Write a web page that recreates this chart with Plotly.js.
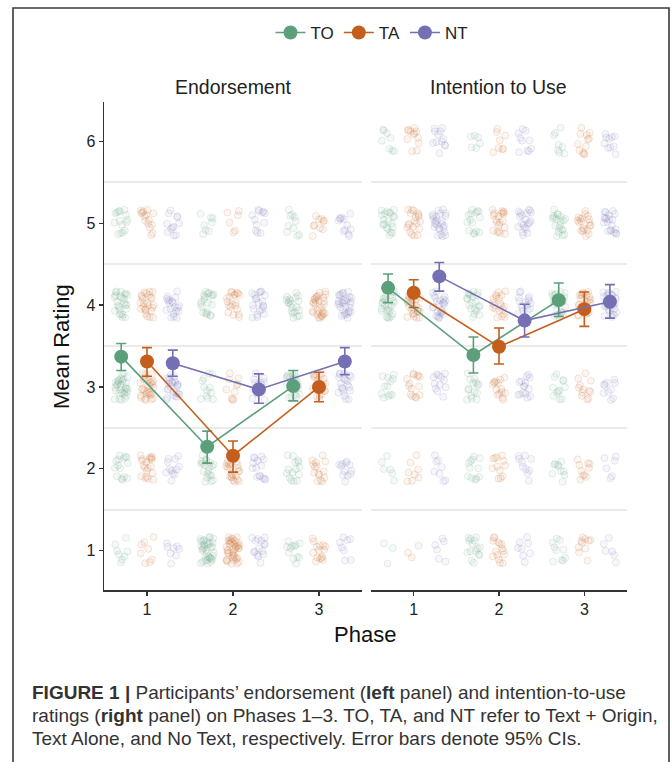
<!DOCTYPE html>
<html>
<head>
<meta charset="utf-8">
<script src="https://cdn.plot.ly/plotly-3.0.1.min.js"></script>
<style>html,body{margin:0;padding:0;background:#fff;}#chart{width:672px;height:762px;}</style>
</head>
<body>
<div id="chart"></div>
<script>
// ---------- DATA ----------
const phases = [1, 2, 3];
const groups = ['TO', 'TA', 'NT'];
const levels = [1, 2, 3, 4, 5, 6];
const panelTitles = ['Endorsement', 'Intention to Use'];

// counts of individual ratings per phase (rows) and rating level 1..6 (cols)
const endTO = [[8, 15, 30, 25, 15, 0], [35, 20, 12, 20, 8, 0], [12, 15, 20, 20, 10, 0]];
const endTA = [[8, 20, 30, 25, 15, 0], [40, 25, 10, 20, 6, 0], [15, 15, 20, 30, 10, 0]];
const endNT = [[8, 12, 25, 20, 12, 0], [15, 15, 15, 20, 12, 0], [8, 12, 20, 30, 12, 0]];
const intTO = [[3, 6, 12, 25, 20, 8], [15, 12, 15, 20, 15, 6], [10, 10, 12, 25, 20, 8]];
const intTA = [[3, 8, 15, 25, 20, 12], [15, 12, 15, 20, 20, 8], [10, 10, 12, 25, 20, 12]];
const intNT = [[6, 8, 12, 25, 25, 12], [8, 10, 15, 20, 20, 10], [6, 6, 10, 25, 20, 10]];

// means and 95% CI bounds per phase
const endMeanTO = [3.37, 2.27, 3.01], endLoTO = [3.20, 2.07, 2.83], endHiTO = [3.53, 2.46, 3.20];
const endMeanTA = [3.31, 2.16, 3.00], endLoTA = [3.13, 1.96, 2.82], endHiTA = [3.48, 2.34, 3.18];
const endMeanNT = [3.29, 2.97, 3.31], endLoNT = [3.13, 2.80, 3.15], endHiNT = [3.45, 3.16, 3.48];
const intMeanTO = [4.21, 3.39, 4.06], intLoTO = [4.03, 3.17, 3.86], intHiTO = [4.38, 3.61, 4.27];
const intMeanTA = [4.15, 3.49, 3.95], intLoTA = [3.97, 3.28, 3.74], intHiTA = [4.31, 3.72, 4.16];
const intMeanNT = [4.35, 3.81, 4.04], intLoNT = [4.17, 3.61, 3.84], intHiNT = [4.52, 4.01, 4.25];

// ---------- STYLE ----------
const colors = { TO: '#5b9f7b', TA: '#c45e1c', NT: '#7570b3' };
const rgba = { TO: 'rgba(91,159,123,', TA: 'rgba(196,94,28,', NT: 'rgba(117,112,179,' };
const dodge = [-0.3, 0, 0.3];
// fixed jitter pattern (unit offsets), scaled below
const jx = [0.12,-0.85,0.47,-0.33,0.91,-0.06,0.68,-0.59,0.25,-0.97,0.53,-0.21,0.79,-0.44,0.03,-0.72,0.36,0.88,-0.15,-0.63,0.61,-0.9,0.18,0.42,-0.38,0.95,-0.27,0.71,-0.81,0.07,-0.52,0.29,0.84,-0.11,-0.68,0.56,-0.02,0.39,-0.93,0.74,-0.46,0.15,-0.77,0.64,-0.24];
const jy = [-0.64,0.31,0.88,-0.12,0.45,-0.93,0.07,0.72,-0.41,0.19,-0.78,0.96,-0.27,0.53,-0.58,0.84,-0.05,-0.36,0.67,0.24,-0.86,-0.19,0.41,-0.71,0.92,0.13,-0.49,0.58,-0.02,-0.82,0.35,0.77,-0.31,0.61,-0.15,-0.67,0.49,0.98,-0.44,0.04,0.71,-0.9,0.28,-0.53,0.16];
const JW = 0.08, JH = 0.17;
const FONT = 'Liberation Sans, Arial, sans-serif';

const panels = [
  { counts: [endTO, endTA, endNT], mean: [endMeanTO, endMeanTA, endMeanNT], lo: [endLoTO, endLoTA, endLoNT], hi: [endHiTO, endHiTA, endHiNT], xa: 'x', ya: 'y' },
  { counts: [intTO, intTA, intNT], mean: [intMeanTO, intMeanTA, intMeanNT], lo: [intLoTO, intLoTA, intLoNT], hi: [intHiTO, intHiTA, intHiNT], xa: 'x2', ya: 'y2' }
];

const traces = [];
panels.forEach((pn, pi) => {
  groups.forEach((g, gi) => {
    const xs = [], ys = [];
    phases.forEach((ph, p) => {
      levels.forEach((lv, li) => {
        const n = pn.counts[gi][p][li];
        let k = ((gi * 3 + p) * 7 + li * 11 + pi * 5) % jx.length;
        for (let i = 0; i < n; i++) {
          xs.push(ph + dodge[gi] + jx[k] * JW);
          ys.push(lv + jy[(k + 3 * i) % jy.length] * JH);
          k = (k + 1) % jx.length;
        }
      });
    });
    traces.push({
      type: 'scatter', mode: 'markers', x: xs, y: ys, xaxis: pn.xa, yaxis: pn.ya,
      showlegend: false, hoverinfo: 'skip',
      marker: { size: 7, color: rgba[g] + '0.06)', line: { color: rgba[g] + '0.15)', width: 1 } }
    });
  });
});
panels.forEach((pn, pi) => {
  groups.forEach((g, gi) => {
    const m = pn.mean[gi];
    traces.push({
      type: 'scatter', mode: 'lines+markers', name: g,
      x: phases.map(ph => ph + dodge[gi]), y: m,
      xaxis: pn.xa, yaxis: pn.ya, showlegend: pi === 0, legendgroup: g,
      line: { color: colors[g], width: 1.6 },
      marker: { size: 14, color: colors[g] },
      error_y: { type: 'data', symmetric: false,
        array: m.map((v, i) => pn.hi[gi][i] - v),
        arrayminus: m.map((v, i) => v - pn.lo[gi][i]),
        color: colors[g], thickness: 1.6, width: 5 }
    });
  });
});

const W = 672, H = 762;
const px = v => v / W, py = v => 1 - v / H;
const xCommon = {
  range: [0.5, 3.5], tickvals: phases, ticktext: phases.map(String), ticks: 'outside', ticklen: 4, tickwidth: 1.3,
  tickcolor: '#333', showline: true, linecolor: '#333', linewidth: 1.5, showgrid: false, zeroline: false,
  tickfont: { size: 16, color: '#222', family: FONT }, fixedrange: true
};
const yDomain = [py(590), py(102)];
const yCommon = {
  domain: yDomain, range: [0.52, 6.48], tickvals: levels, showgrid: false, zeroline: false,
  minor: { tickmode: 'linear', tick0: 0.5, dtick: 1, showgrid: true, gridcolor: '#ebebeb', gridwidth: 1.6, ticks: '' },
  fixedrange: true
};

const layout = {
  width: W, height: H, margin: { l: 0, r: 0, t: 0, b: 0 },
  paper_bgcolor: '#fff', plot_bgcolor: '#fff',
  font: { family: FONT, color: '#222' },
  showlegend: true,
  legend: { orientation: 'h', x: px(372), xanchor: 'center', y: py(33), yanchor: 'middle',
    font: { size: 17, color: '#222', family: FONT }, traceorder: 'normal' },
  xaxis: Object.assign({}, xCommon, { domain: [px(104), px(362)], anchor: 'y' }),
  xaxis2: Object.assign({}, xCommon, { domain: [px(371), px(627)], anchor: 'y2' }),
  yaxis: Object.assign({}, yCommon, { anchor: 'x', ticks: 'outside', ticklen: 4, tickwidth: 1.3, tickcolor: '#333',
    showline: true, linecolor: '#333', linewidth: 1.5, tickfont: { size: 16, color: '#222', family: FONT } }),
  yaxis2: Object.assign({}, yCommon, { anchor: 'x2', matches: 'y', showticklabels: false, ticks: '', showline: false }),
  shapes: [
    { type: 'rect', xref: 'paper', yref: 'paper', x0: px(13), x1: px(669), y0: -0.05, y1: py(8),
      line: { color: '#3a3a3a', width: 1.6 }, fillcolor: 'rgba(0,0,0,0)', layer: 'below' }
  ],
  annotations: [
    { text: panelTitles[0], xref: 'paper', yref: 'paper', x: px(233), y: py(87), showarrow: false, xanchor: 'center', yanchor: 'middle', font: { size: 19.5, color: '#222' } },
    { text: panelTitles[1], xref: 'paper', yref: 'paper', x: px(498), y: py(87), showarrow: false, xanchor: 'center', yanchor: 'middle', font: { size: 19.5, color: '#222' } },
    { text: 'Mean Rating', xref: 'paper', yref: 'paper', x: px(62), y: py(347), showarrow: false, textangle: -90, xanchor: 'center', yanchor: 'middle', font: { size: 22, color: '#111' } },
    { text: 'Phase', xref: 'paper', yref: 'paper', x: px(365), y: py(634), showarrow: false, xanchor: 'center', yanchor: 'middle', font: { size: 22, color: '#111' } },
    { text: '<b>FIGURE 1 |</b> Participants\u2019 endorsement (<b>left</b> panel) and intention-to-use', xref: 'paper', yref: 'paper', x: px(30), y: py(692), showarrow: false, xanchor: 'left', yanchor: 'middle', font: { size: 19, color: '#333' } },
    { text: 'ratings (<b>right</b> panel) on Phases 1\u20133. TO, TA, and NT refer to Text + Origin,', xref: 'paper', yref: 'paper', x: px(30), y: py(715), showarrow: false, xanchor: 'left', yanchor: 'middle', font: { size: 19, color: '#333' } },
    { text: 'Text Alone, and No Text, respectively. Error bars denote 95% CIs.', xref: 'paper', yref: 'paper', x: px(30), y: py(738), showarrow: false, xanchor: 'left', yanchor: 'middle', font: { size: 19, color: '#333' } }
  ]
};

Plotly.newPlot('chart', traces, layout, { displayModeBar: false, staticPlot: true });
</script>
</body>
</html>
